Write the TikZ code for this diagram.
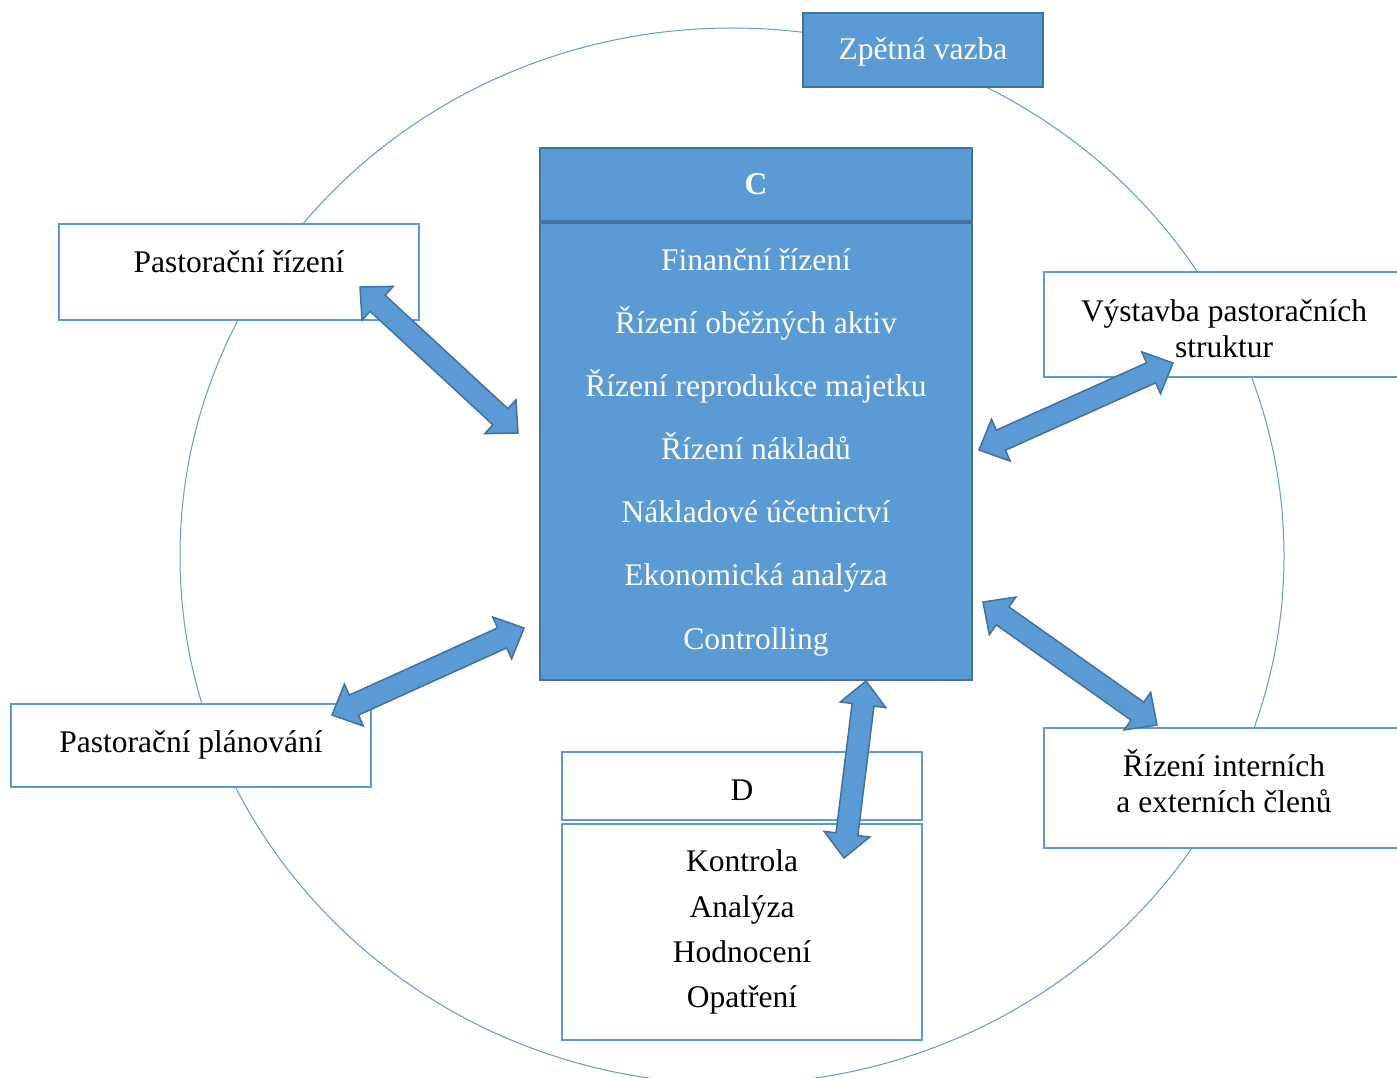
\documentclass[tikz,border=0pt]{standalone}
\usepackage{fontspec}
\setmainfont{Liberation Serif}
\usetikzlibrary{calc}
\definecolor{boxblue}{RGB}{91,155,213}
\definecolor{edgeblue}{RGB}{65,113,156}
\tikzset{
  whitebox/.style={rectangle, draw=boxblue, line width=2pt, fill=white, inner sep=0pt},
  bluebox/.style={rectangle, draw=edgeblue, line width=2pt, fill=boxblue, inner sep=0pt},
  darktext/.style={font=\fontsize{31.5}{36}\selectfont, text=black, anchor=base, inner sep=0pt},
  lighttext/.style={darktext, text=white},
  blockarrow/.style={fill=boxblue, draw=edgeblue, line width=1.5pt, line join=miter},
  cycleline/.style={draw=boxblue, line width=1pt},
}
% double-headed block arrow between two named tip coordinates
\newcommand\dblarrow[2]{%
  \coordinate (ha) at ($(#1)!24pt!(#2)$);
  \coordinate (hb) at ($(#2)!24pt!(#1)$);
  \draw[blockarrow] (#1) -- ($(ha)!23pt!-90:(#2)$) -- ($(ha)!11pt!-90:(#2)$)
    -- ($(hb)!11pt!90:(#1)$) -- ($(hb)!23pt!90:(#1)$) -- (#2)
    -- ($(hb)!23pt!-90:(#1)$) -- ($(hb)!11pt!-90:(#1)$)
    -- ($(ha)!11pt!90:(#2)$) -- ($(ha)!23pt!90:(#2)$) -- cycle;
}
\begin{document}
\begin{tikzpicture}[x=1pt, y=-1pt]
  \useasboundingbox (0,0) rectangle (1397,1078);
  \clip (0,0) rectangle (1397,1078);

  % management cycle
  \draw[cycleline] (732,556) ellipse [x radius=552pt, y radius=528pt];

  % feedback
  \node[bluebox, minimum width=240pt, minimum height=74pt] (zv) at (923,50) {};
  \node[lighttext] (zvt) at (923,60) {Zpětná vazba};

  % central block C
  \node[bluebox, minimum width=432pt, minimum height=73pt] (chead) at (756,184.5) {};
  \node[bluebox, minimum width=432pt, minimum height=457pt] (cbody) at (756,451.5) {};
  \node[lighttext, font=\fontsize{31.5}{36}\selectfont\bfseries] (ct) at (756,195) {C};
  \node[lighttext] (c1) at (756,270) {Finanční řízení};
  \node[lighttext] (c2) at (756,333) {Řízení oběžných aktiv};
  \node[lighttext] (c3) at (756,396) {Řízení reprodukce majetku};
  \node[lighttext] (c4) at (756,459) {Řízení nákladů};
  \node[lighttext] (c5) at (756,522) {Nákladové účetnictví};
  \node[lighttext] (c6) at (756,585) {Ekonomická analýza};
  \node[lighttext] (c7) at (756,649) {Controlling};

  % surrounding areas
  \node[whitebox, minimum width=360pt, minimum height=96pt] (pr) at (239,272) {};
  \node[darktext] (prt) at (239,272) {Pastorační řízení};

  \node[whitebox, minimum width=360pt, minimum height=105pt] (vps) at (1224,324.5) {};
  \node[darktext] (vps1) at (1224,321) {Výstavba pastoračních};
  \node[darktext] (vps2) at (1224,357) {struktur};

  \node[whitebox, minimum width=360pt, minimum height=83pt] (pp) at (191,745.5) {};
  \node[darktext] (ppt) at (191,752) {Pastorační plánování};

  \node[whitebox, minimum width=360pt, minimum height=120pt] (rie) at (1224,788) {};
  \node[darktext] (rie1) at (1224,776) {Řízení interních};
  \node[darktext] (rie2) at (1224,812) {a externích členů};

  % block D
  \node[whitebox, minimum width=360pt, minimum height=68pt] (dhead) at (742,786) {};
  \node[whitebox, minimum width=360pt, minimum height=216pt] (dbody) at (742,932) {};
  \node[darktext] (dt) at (742,800) {D};
  \node[darktext] (d1) at (742,871) {Kontrola};
  \node[darktext] (d2) at (742,917) {Analýza};
  \node[darktext] (d3) at (742,962) {Hodnocení};
  \node[darktext] (d4) at (742,1007) {Opatření};

  % arrow tips
  \coordinate (a1s) at (360,287);  \coordinate (a1e) at (518,433);
  \coordinate (a2s) at (979,450);  \coordinate (a2e) at (1173,363);
  \coordinate (a3s) at (332,715);  \coordinate (a3e) at (524,628);
  \coordinate (a4s) at (983,602);  \coordinate (a4e) at (1157,725);
  \coordinate (a5s) at (866,681);  \coordinate (a5e) at (844,858);

  \dblarrow{a1s}{a1e}
  \dblarrow{a2s}{a2e}
  \dblarrow{a3s}{a3e}
  \dblarrow{a4s}{a4e}
  \dblarrow{a5s}{a5e}
\end{tikzpicture}
\end{document}
